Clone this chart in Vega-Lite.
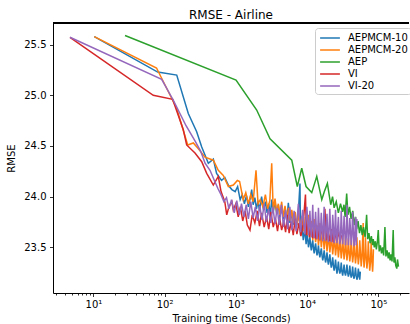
{
  "$schema": "https://vega.github.io/schema/vega-lite/v6.json",
  "width": 356,
  "height": 270,
  "autosize": {"type": "none"},
  "padding": {"left": 53, "top": 23, "right": 1, "bottom": 31},
  "config": {
    "font": "DejaVu Sans",
    "view": {"stroke": null},
    "axis": {
      "domainColor": "black",
      "domainWidth": 1,
      "tickColor": "black",
      "tickWidth": 0.8,
      "labelColor": "black",
      "labelFontSize": 10,
      "titleColor": "black",
      "titleFontSize": 10,
      "titleFontWeight": "normal",
      "grid": false
    }
  },
  "title": {
    "text": "RMSE - Airline",
    "fontSize": 12,
    "fontWeight": "normal",
    "color": "black",
    "anchor": "middle",
    "frame": "group",
    "baseline": "bottom",
    "offset": 3,
    "dy": 14
  },
  "data": {
    "values": [
      {"m": "AEPMCM-10", "t": 10.3, "r": 25.58},
      {"m": "AEPMCM-10", "t": 80, "r": 25.23},
      {"m": "AEPMCM-10", "t": 148, "r": 25.2},
      {"m": "AEPMCM-10", "t": 215, "r": 24.82},
      {"m": "AEPMCM-10", "t": 282, "r": 24.64},
      {"m": "AEPMCM-10", "t": 332, "r": 24.49},
      {"m": "AEPMCM-10", "t": 411, "r": 24.33},
      {"m": "AEPMCM-10", "t": 483, "r": 24.37},
      {"m": "AEPMCM-10", "t": 537, "r": 24.23},
      {"m": "AEPMCM-10", "t": 630, "r": 24.16},
      {"m": "AEPMCM-10", "t": 700, "r": 24.19},
      {"m": "AEPMCM-10", "t": 790, "r": 24.11},
      {"m": "AEPMCM-10", "t": 880, "r": 24.07},
      {"m": "AEPMCM-10", "t": 980, "r": 24.05},
      {"m": "AEPMCM-10", "t": 1060, "r": 24.1},
      {"m": "AEPMCM-10", "t": 1150, "r": 23.97},
      {"m": "AEPMCM-10", "t": 1230, "r": 24.02},
      {"m": "AEPMCM-10", "t": 1320, "r": 23.93},
      {"m": "AEPMCM-10", "t": 1410, "r": 24.01},
      {"m": "AEPMCM-10", "t": 1500, "r": 23.9},
      {"m": "AEPMCM-10", "t": 1600, "r": 23.99},
      {"m": "AEPMCM-10", "t": 1670, "r": 24.07},
      {"m": "AEPMCM-10", "t": 1750, "r": 23.92},
      {"m": "AEPMCM-10", "t": 1850, "r": 23.99},
      {"m": "AEPMCM-10", "t": 1950, "r": 23.88},
      {"m": "AEPMCM-10", "t": 2050, "r": 23.96},
      {"m": "AEPMCM-10", "t": 2150, "r": 23.86},
      {"m": "AEPMCM-10", "t": 2300, "r": 24.0},
      {"m": "AEPMCM-10", "t": 2450, "r": 23.87},
      {"m": "AEPMCM-10", "t": 2600, "r": 23.95},
      {"m": "AEPMCM-10", "t": 2750, "r": 23.84},
      {"m": "AEPMCM-10", "t": 2900, "r": 23.93},
      {"m": "AEPMCM-10", "t": 3050, "r": 23.82},
      {"m": "AEPMCM-10", "t": 3190, "r": 23.97},
      {"m": "AEPMCM-10", "t": 3350, "r": 23.85},
      {"m": "AEPMCM-10", "t": 3550, "r": 23.95},
      {"m": "AEPMCM-10", "t": 3750, "r": 23.83},
      {"m": "AEPMCM-10", "t": 3950, "r": 23.92},
      {"m": "AEPMCM-10", "t": 4150, "r": 23.8},
      {"m": "AEPMCM-10", "t": 4400, "r": 23.9},
      {"m": "AEPMCM-10", "t": 4650, "r": 23.78},
      {"m": "AEPMCM-10", "t": 4900, "r": 23.88},
      {"m": "AEPMCM-10", "t": 5200, "r": 23.76},
      {"m": "AEPMCM-10", "t": 5460, "r": 23.94},
      {"m": "AEPMCM-10", "t": 5750, "r": 23.74},
      {"m": "AEPMCM-10", "t": 6050, "r": 23.86},
      {"m": "AEPMCM-10", "t": 6350, "r": 23.72},
      {"m": "AEPMCM-10", "t": 6700, "r": 23.84},
      {"m": "AEPMCM-10", "t": 7050, "r": 23.7},
      {"m": "AEPMCM-10", "t": 7500, "r": 23.8},
      {"m": "AEPMCM-10", "t": 7950, "r": 24.13},
      {"m": "AEPMCM-10", "t": 8100, "r": 23.62},
      {"m": "AEPMCM-10", "t": 8500, "r": 23.72},
      {"m": "AEPMCM-10", "t": 8850, "r": 23.57},
      {"m": "AEPMCM-10", "t": 9300, "r": 23.68},
      {"m": "AEPMCM-10", "t": 9700, "r": 23.53},
      {"m": "AEPMCM-10", "t": 10000, "r": 23.64},
      {"m": "AEPMCM-10", "t": 10230, "r": 23.58},
      {"m": "AEPMCM-10", "t": 10470, "r": 23.5},
      {"m": "AEPMCM-10", "t": 10710, "r": 23.55},
      {"m": "AEPMCM-10", "t": 10960, "r": 23.6},
      {"m": "AEPMCM-10", "t": 11220, "r": 23.52},
      {"m": "AEPMCM-10", "t": 11480, "r": 23.47},
      {"m": "AEPMCM-10", "t": 11750, "r": 23.53},
      {"m": "AEPMCM-10", "t": 12020, "r": 23.57},
      {"m": "AEPMCM-10", "t": 12300, "r": 23.49},
      {"m": "AEPMCM-10", "t": 12590, "r": 23.44},
      {"m": "AEPMCM-10", "t": 12880, "r": 23.5},
      {"m": "AEPMCM-10", "t": 13180, "r": 23.54},
      {"m": "AEPMCM-10", "t": 13490, "r": 23.47},
      {"m": "AEPMCM-10", "t": 13800, "r": 23.42},
      {"m": "AEPMCM-10", "t": 14120, "r": 23.46},
      {"m": "AEPMCM-10", "t": 14450, "r": 23.52},
      {"m": "AEPMCM-10", "t": 14790, "r": 23.44},
      {"m": "AEPMCM-10", "t": 15140, "r": 23.4},
      {"m": "AEPMCM-10", "t": 15490, "r": 23.45},
      {"m": "AEPMCM-10", "t": 15850, "r": 23.49},
      {"m": "AEPMCM-10", "t": 16220, "r": 23.42},
      {"m": "AEPMCM-10", "t": 16600, "r": 23.37},
      {"m": "AEPMCM-10", "t": 16980, "r": 23.41},
      {"m": "AEPMCM-10", "t": 17380, "r": 23.47},
      {"m": "AEPMCM-10", "t": 17780, "r": 23.4},
      {"m": "AEPMCM-10", "t": 18200, "r": 23.35},
      {"m": "AEPMCM-10", "t": 18620, "r": 23.39},
      {"m": "AEPMCM-10", "t": 19050, "r": 23.45},
      {"m": "AEPMCM-10", "t": 19500, "r": 23.37},
      {"m": "AEPMCM-10", "t": 19950, "r": 23.33},
      {"m": "AEPMCM-10", "t": 20420, "r": 23.38},
      {"m": "AEPMCM-10", "t": 20890, "r": 23.43},
      {"m": "AEPMCM-10", "t": 21380, "r": 23.35},
      {"m": "AEPMCM-10", "t": 21880, "r": 23.3},
      {"m": "AEPMCM-10", "t": 22390, "r": 23.34},
      {"m": "AEPMCM-10", "t": 22910, "r": 23.4},
      {"m": "AEPMCM-10", "t": 23440, "r": 23.32},
      {"m": "AEPMCM-10", "t": 23990, "r": 23.27},
      {"m": "AEPMCM-10", "t": 24550, "r": 23.31},
      {"m": "AEPMCM-10", "t": 25120, "r": 23.38},
      {"m": "AEPMCM-10", "t": 25700, "r": 23.3},
      {"m": "AEPMCM-10", "t": 26300, "r": 23.24},
      {"m": "AEPMCM-10", "t": 26910, "r": 23.29},
      {"m": "AEPMCM-10", "t": 27540, "r": 23.36},
      {"m": "AEPMCM-10", "t": 28180, "r": 23.28},
      {"m": "AEPMCM-10", "t": 28840, "r": 23.24},
      {"m": "AEPMCM-10", "t": 29510, "r": 23.27},
      {"m": "AEPMCM-10", "t": 30200, "r": 23.35},
      {"m": "AEPMCM-10", "t": 30900, "r": 23.26},
      {"m": "AEPMCM-10", "t": 31620, "r": 23.22},
      {"m": "AEPMCM-10", "t": 32360, "r": 23.27},
      {"m": "AEPMCM-10", "t": 33110, "r": 23.33},
      {"m": "AEPMCM-10", "t": 33880, "r": 23.25},
      {"m": "AEPMCM-10", "t": 34670, "r": 23.22},
      {"m": "AEPMCM-10", "t": 35480, "r": 23.26},
      {"m": "AEPMCM-10", "t": 36310, "r": 23.33},
      {"m": "AEPMCM-10", "t": 37150, "r": 23.25},
      {"m": "AEPMCM-10", "t": 38020, "r": 23.21},
      {"m": "AEPMCM-10", "t": 38900, "r": 23.24},
      {"m": "AEPMCM-10", "t": 39810, "r": 23.32},
      {"m": "AEPMCM-10", "t": 40740, "r": 23.24},
      {"m": "AEPMCM-10", "t": 41690, "r": 23.2},
      {"m": "AEPMCM-10", "t": 42660, "r": 23.23},
      {"m": "AEPMCM-10", "t": 43650, "r": 23.31},
      {"m": "AEPMCM-10", "t": 44670, "r": 23.22},
      {"m": "AEPMCM-10", "t": 45710, "r": 23.19},
      {"m": "AEPMCM-10", "t": 46770, "r": 23.23},
      {"m": "AEPMCM-10", "t": 47860, "r": 23.3},
      {"m": "AEPMCM-10", "t": 48980, "r": 23.22},
      {"m": "AEPMCM-10", "t": 50120, "r": 23.18},
      {"m": "AEPMCM-10", "t": 51290, "r": 23.21},
      {"m": "AEPMCM-10", "t": 52480, "r": 23.29},
      {"m": "AEPMCM-10", "t": 53710, "r": 23.22},
      {"m": "AEPMCM-10", "t": 54950, "r": 23.18},
      {"m": "AEPMCM-10", "t": 56000, "r": 23.26},

      {"m": "AEPMCM-20", "t": 10.3, "r": 25.58},
      {"m": "AEPMCM-20", "t": 77, "r": 25.27},
      {"m": "AEPMCM-20", "t": 148, "r": 24.87},
      {"m": "AEPMCM-20", "t": 211, "r": 24.51},
      {"m": "AEPMCM-20", "t": 253, "r": 24.53},
      {"m": "AEPMCM-20", "t": 300, "r": 24.47},
      {"m": "AEPMCM-20", "t": 369, "r": 24.39},
      {"m": "AEPMCM-20", "t": 483, "r": 24.36},
      {"m": "AEPMCM-20", "t": 567, "r": 24.26},
      {"m": "AEPMCM-20", "t": 667, "r": 24.21},
      {"m": "AEPMCM-20", "t": 785, "r": 24.1},
      {"m": "AEPMCM-20", "t": 923, "r": 24.115},
      {"m": "AEPMCM-20", "t": 1050, "r": 24.16},
      {"m": "AEPMCM-20", "t": 1130, "r": 24.15},
      {"m": "AEPMCM-20", "t": 1270, "r": 23.97},
      {"m": "AEPMCM-20", "t": 1380, "r": 24.04},
      {"m": "AEPMCM-20", "t": 1500, "r": 23.93},
      {"m": "AEPMCM-20", "t": 1620, "r": 24.02},
      {"m": "AEPMCM-20", "t": 1750, "r": 23.95},
      {"m": "AEPMCM-20", "t": 1920, "r": 24.26},
      {"m": "AEPMCM-20", "t": 2050, "r": 23.93},
      {"m": "AEPMCM-20", "t": 2200, "r": 23.97},
      {"m": "AEPMCM-20", "t": 2400, "r": 23.9},
      {"m": "AEPMCM-20", "t": 2600, "r": 24.02},
      {"m": "AEPMCM-20", "t": 2800, "r": 23.88},
      {"m": "AEPMCM-20", "t": 3000, "r": 23.96},
      {"m": "AEPMCM-20", "t": 3190, "r": 24.33},
      {"m": "AEPMCM-20", "t": 3350, "r": 23.86},
      {"m": "AEPMCM-20", "t": 3550, "r": 23.98},
      {"m": "AEPMCM-20", "t": 3750, "r": 23.84},
      {"m": "AEPMCM-20", "t": 3950, "r": 23.93},
      {"m": "AEPMCM-20", "t": 4150, "r": 23.82},
      {"m": "AEPMCM-20", "t": 4400, "r": 23.95},
      {"m": "AEPMCM-20", "t": 4650, "r": 23.8},
      {"m": "AEPMCM-20", "t": 4900, "r": 23.91},
      {"m": "AEPMCM-20", "t": 5200, "r": 23.78},
      {"m": "AEPMCM-20", "t": 5500, "r": 23.89},
      {"m": "AEPMCM-20", "t": 5800, "r": 23.76},
      {"m": "AEPMCM-20", "t": 6100, "r": 23.87},
      {"m": "AEPMCM-20", "t": 6400, "r": 23.74},
      {"m": "AEPMCM-20", "t": 6800, "r": 23.85},
      {"m": "AEPMCM-20", "t": 7200, "r": 23.72},
      {"m": "AEPMCM-20", "t": 7600, "r": 23.83},
      {"m": "AEPMCM-20", "t": 8000, "r": 23.7},
      {"m": "AEPMCM-20", "t": 8500, "r": 23.81},
      {"m": "AEPMCM-20", "t": 9000, "r": 23.66},
      {"m": "AEPMCM-20", "t": 9500, "r": 23.8},
      {"m": "AEPMCM-20", "t": 10000, "r": 23.62},
      {"m": "AEPMCM-20", "t": 10230, "r": 23.7},
      {"m": "AEPMCM-20", "t": 10470, "r": 23.82},
      {"m": "AEPMCM-20", "t": 10710, "r": 23.68},
      {"m": "AEPMCM-20", "t": 10960, "r": 23.6},
      {"m": "AEPMCM-20", "t": 11220, "r": 23.66},
      {"m": "AEPMCM-20", "t": 11480, "r": 23.76},
      {"m": "AEPMCM-20", "t": 11750, "r": 23.67},
      {"m": "AEPMCM-20", "t": 12020, "r": 23.57},
      {"m": "AEPMCM-20", "t": 12300, "r": 23.64},
      {"m": "AEPMCM-20", "t": 12590, "r": 23.78},
      {"m": "AEPMCM-20", "t": 12880, "r": 23.63},
      {"m": "AEPMCM-20", "t": 13180, "r": 23.55},
      {"m": "AEPMCM-20", "t": 13490, "r": 23.6},
      {"m": "AEPMCM-20", "t": 13800, "r": 23.72},
      {"m": "AEPMCM-20", "t": 14120, "r": 23.62},
      {"m": "AEPMCM-20", "t": 14450, "r": 23.52},
      {"m": "AEPMCM-20", "t": 14790, "r": 23.58},
      {"m": "AEPMCM-20", "t": 15140, "r": 23.74},
      {"m": "AEPMCM-20", "t": 15490, "r": 23.6},
      {"m": "AEPMCM-20", "t": 15850, "r": 23.5},
      {"m": "AEPMCM-20", "t": 16220, "r": 23.57},
      {"m": "AEPMCM-20", "t": 16600, "r": 23.7},
      {"m": "AEPMCM-20", "t": 16980, "r": 23.58},
      {"m": "AEPMCM-20", "t": 17380, "r": 23.48},
      {"m": "AEPMCM-20", "t": 17780, "r": 23.55},
      {"m": "AEPMCM-20", "t": 18200, "r": 23.69},
      {"m": "AEPMCM-20", "t": 18620, "r": 23.56},
      {"m": "AEPMCM-20", "t": 19050, "r": 23.46},
      {"m": "AEPMCM-20", "t": 19500, "r": 23.53},
      {"m": "AEPMCM-20", "t": 19950, "r": 23.66},
      {"m": "AEPMCM-20", "t": 20420, "r": 23.55},
      {"m": "AEPMCM-20", "t": 20890, "r": 23.45},
      {"m": "AEPMCM-20", "t": 21380, "r": 23.52},
      {"m": "AEPMCM-20", "t": 21880, "r": 23.68},
      {"m": "AEPMCM-20", "t": 22390, "r": 23.53},
      {"m": "AEPMCM-20", "t": 22910, "r": 23.43},
      {"m": "AEPMCM-20", "t": 23440, "r": 23.5},
      {"m": "AEPMCM-20", "t": 23990, "r": 23.63},
      {"m": "AEPMCM-20", "t": 24550, "r": 23.52},
      {"m": "AEPMCM-20", "t": 25120, "r": 23.42},
      {"m": "AEPMCM-20", "t": 25700, "r": 23.49},
      {"m": "AEPMCM-20", "t": 26300, "r": 23.65},
      {"m": "AEPMCM-20", "t": 26910, "r": 23.5},
      {"m": "AEPMCM-20", "t": 27540, "r": 23.4},
      {"m": "AEPMCM-20", "t": 28180, "r": 23.48},
      {"m": "AEPMCM-20", "t": 28840, "r": 23.62},
      {"m": "AEPMCM-20", "t": 29510, "r": 23.49},
      {"m": "AEPMCM-20", "t": 30200, "r": 23.39},
      {"m": "AEPMCM-20", "t": 30900, "r": 23.46},
      {"m": "AEPMCM-20", "t": 31620, "r": 23.6},
      {"m": "AEPMCM-20", "t": 32360, "r": 23.48},
      {"m": "AEPMCM-20", "t": 33110, "r": 23.38},
      {"m": "AEPMCM-20", "t": 33880, "r": 23.45},
      {"m": "AEPMCM-20", "t": 34670, "r": 23.62},
      {"m": "AEPMCM-20", "t": 35480, "r": 23.47},
      {"m": "AEPMCM-20", "t": 36310, "r": 23.37},
      {"m": "AEPMCM-20", "t": 37150, "r": 23.44},
      {"m": "AEPMCM-20", "t": 38020, "r": 23.59},
      {"m": "AEPMCM-20", "t": 38900, "r": 23.46},
      {"m": "AEPMCM-20", "t": 39810, "r": 23.36},
      {"m": "AEPMCM-20", "t": 40740, "r": 23.43},
      {"m": "AEPMCM-20", "t": 41690, "r": 23.6},
      {"m": "AEPMCM-20", "t": 42660, "r": 23.45},
      {"m": "AEPMCM-20", "t": 43650, "r": 23.35},
      {"m": "AEPMCM-20", "t": 44670, "r": 23.42},
      {"m": "AEPMCM-20", "t": 45710, "r": 23.58},
      {"m": "AEPMCM-20", "t": 46770, "r": 23.44},
      {"m": "AEPMCM-20", "t": 47860, "r": 23.34},
      {"m": "AEPMCM-20", "t": 48980, "r": 23.41},
      {"m": "AEPMCM-20", "t": 50120, "r": 23.6},
      {"m": "AEPMCM-20", "t": 51290, "r": 23.43},
      {"m": "AEPMCM-20", "t": 52480, "r": 23.33},
      {"m": "AEPMCM-20", "t": 53710, "r": 23.4},
      {"m": "AEPMCM-20", "t": 54950, "r": 23.57},
      {"m": "AEPMCM-20", "t": 56230, "r": 23.44},
      {"m": "AEPMCM-20", "t": 57540, "r": 23.31},
      {"m": "AEPMCM-20", "t": 58880, "r": 23.39},
      {"m": "AEPMCM-20", "t": 60260, "r": 23.58},
      {"m": "AEPMCM-20", "t": 61400, "r": 23.74},
      {"m": "AEPMCM-20", "t": 61700, "r": 23.45},
      {"m": "AEPMCM-20", "t": 63100, "r": 23.3},
      {"m": "AEPMCM-20", "t": 64570, "r": 23.38},
      {"m": "AEPMCM-20", "t": 66070, "r": 23.6},
      {"m": "AEPMCM-20", "t": 67600, "r": 23.42},
      {"m": "AEPMCM-20", "t": 69180, "r": 23.29},
      {"m": "AEPMCM-20", "t": 70790, "r": 23.36},
      {"m": "AEPMCM-20", "t": 72440, "r": 23.56},
      {"m": "AEPMCM-20", "t": 74130, "r": 23.4},
      {"m": "AEPMCM-20", "t": 75860, "r": 23.27},
      {"m": "AEPMCM-20", "t": 77620, "r": 23.35},
      {"m": "AEPMCM-20", "t": 79430, "r": 23.55},
      {"m": "AEPMCM-20", "t": 81280, "r": 23.38},
      {"m": "AEPMCM-20", "t": 83180, "r": 23.26},
      {"m": "AEPMCM-20", "t": 84300, "r": 23.33},
      {"m": "AEPMCM-20", "t": 85500, "r": 23.48},

      {"m": "AEP", "t": 27.8, "r": 25.59},
      {"m": "AEP", "t": 1007, "r": 25.15},
      {"m": "AEP", "t": 1963, "r": 24.855},
      {"m": "AEP", "t": 3020, "r": 24.57},
      {"m": "AEP", "t": 6100, "r": 24.36},
      {"m": "AEP", "t": 7300, "r": 24.1},
      {"m": "AEP", "t": 8420, "r": 24.28},
      {"m": "AEP", "t": 9680, "r": 24.1},
      {"m": "AEP", "t": 11640, "r": 24.04},
      {"m": "AEP", "t": 13680, "r": 24.2},
      {"m": "AEP", "t": 16100, "r": 23.97},
      {"m": "AEP", "t": 17500, "r": 24.05},
      {"m": "AEP", "t": 19300, "r": 24.13},
      {"m": "AEP", "t": 21500, "r": 23.92},
      {"m": "AEP", "t": 22800, "r": 24.0},
      {"m": "AEP", "t": 24000, "r": 23.89},
      {"m": "AEP", "t": 25700, "r": 23.95},
      {"m": "AEP", "t": 27500, "r": 23.84},
      {"m": "AEP", "t": 29500, "r": 23.93},
      {"m": "AEP", "t": 31500, "r": 23.85},
      {"m": "AEP", "t": 33000, "r": 23.92},
      {"m": "AEP", "t": 34200, "r": 23.8},
      {"m": "AEP", "t": 36000, "r": 24.03},
      {"m": "AEP", "t": 37500, "r": 23.82},
      {"m": "AEP", "t": 39500, "r": 23.9},
      {"m": "AEP", "t": 41500, "r": 23.78},
      {"m": "AEP", "t": 43800, "r": 23.86},
      {"m": "AEP", "t": 46000, "r": 23.72},
      {"m": "AEP", "t": 48000, "r": 23.8},
      {"m": "AEP", "t": 49700, "r": 23.68},
      {"m": "AEP", "t": 52000, "r": 23.76},
      {"m": "AEP", "t": 54500, "r": 23.64},
      {"m": "AEP", "t": 57000, "r": 23.72},
      {"m": "AEP", "t": 59500, "r": 23.62},
      {"m": "AEP", "t": 62000, "r": 23.7},
      {"m": "AEP", "t": 65300, "r": 23.6},
      {"m": "AEP", "t": 68600, "r": 23.82},
      {"m": "AEP", "t": 71000, "r": 23.58},
      {"m": "AEP", "t": 74000, "r": 23.64},
      {"m": "AEP", "t": 76800, "r": 23.54},
      {"m": "AEP", "t": 80000, "r": 23.61},
      {"m": "AEP", "t": 83000, "r": 23.52},
      {"m": "AEP", "t": 85000, "r": 23.58},
      {"m": "AEP", "t": 88000, "r": 23.5},
      {"m": "AEP", "t": 91000, "r": 23.56},
      {"m": "AEP", "t": 94000, "r": 23.48},
      {"m": "AEP", "t": 97000, "r": 23.55},
      {"m": "AEP", "t": 100000, "r": 23.67},
      {"m": "AEP", "t": 103000, "r": 23.46},
      {"m": "AEP", "t": 107000, "r": 23.52},
      {"m": "AEP", "t": 111000, "r": 23.44},
      {"m": "AEP", "t": 115000, "r": 23.5},
      {"m": "AEP", "t": 119000, "r": 23.42},
      {"m": "AEP", "t": 124000, "r": 23.7},
      {"m": "AEP", "t": 128000, "r": 23.41},
      {"m": "AEP", "t": 133000, "r": 23.47},
      {"m": "AEP", "t": 138000, "r": 23.39},
      {"m": "AEP", "t": 142000, "r": 23.45},
      {"m": "AEP", "t": 146600, "r": 23.37},
      {"m": "AEP", "t": 151000, "r": 23.43},
      {"m": "AEP", "t": 156000, "r": 23.36},
      {"m": "AEP", "t": 162000, "r": 23.67},
      {"m": "AEP", "t": 166000, "r": 23.35},
      {"m": "AEP", "t": 171000, "r": 23.4},
      {"m": "AEP", "t": 176000, "r": 23.32},
      {"m": "AEP", "t": 182000, "r": 23.29},
      {"m": "AEP", "t": 186000, "r": 23.38},
      {"m": "AEP", "t": 192000, "r": 23.31},

      {"m": "VI", "t": 4.69, "r": 25.573},
      {"m": "VI", "t": 69.3, "r": 25.0},
      {"m": "VI", "t": 130, "r": 24.96},
      {"m": "VI", "t": 183, "r": 24.66},
      {"m": "VI", "t": 204, "r": 24.51},
      {"m": "VI", "t": 267, "r": 24.43},
      {"m": "VI", "t": 332, "r": 24.345},
      {"m": "VI", "t": 390, "r": 24.23},
      {"m": "VI", "t": 483, "r": 24.115},
      {"m": "VI", "t": 567, "r": 24.2},
      {"m": "VI", "t": 620, "r": 24.05},
      {"m": "VI", "t": 700, "r": 23.95},
      {"m": "VI", "t": 745, "r": 23.82},
      {"m": "VI", "t": 800, "r": 23.9},
      {"m": "VI", "t": 880, "r": 23.95},
      {"m": "VI", "t": 920, "r": 23.87},
      {"m": "VI", "t": 1000, "r": 23.93},
      {"m": "VI", "t": 1080, "r": 23.8},
      {"m": "VI", "t": 1160, "r": 23.9},
      {"m": "VI", "t": 1250, "r": 23.76},
      {"m": "VI", "t": 1350, "r": 23.86},
      {"m": "VI", "t": 1450, "r": 23.72},
      {"m": "VI", "t": 1580, "r": 23.67},
      {"m": "VI", "t": 1700, "r": 23.82},
      {"m": "VI", "t": 1850, "r": 23.74},
      {"m": "VI", "t": 2000, "r": 23.86},
      {"m": "VI", "t": 2150, "r": 23.71},
      {"m": "VI", "t": 2300, "r": 23.84},
      {"m": "VI", "t": 2500, "r": 23.7},
      {"m": "VI", "t": 2700, "r": 23.8},
      {"m": "VI", "t": 2900, "r": 23.68},
      {"m": "VI", "t": 3100, "r": 23.85},
      {"m": "VI", "t": 3350, "r": 23.7},
      {"m": "VI", "t": 3600, "r": 23.78},
      {"m": "VI", "t": 3850, "r": 23.66},
      {"m": "VI", "t": 4100, "r": 23.8},
      {"m": "VI", "t": 4400, "r": 23.67},
      {"m": "VI", "t": 4700, "r": 23.76},
      {"m": "VI", "t": 5000, "r": 23.65},
      {"m": "VI", "t": 5300, "r": 23.82},
      {"m": "VI", "t": 5600, "r": 23.64},
      {"m": "VI", "t": 6000, "r": 23.75},
      {"m": "VI", "t": 6400, "r": 23.62},
      {"m": "VI", "t": 6800, "r": 23.78},
      {"m": "VI", "t": 7200, "r": 23.63},
      {"m": "VI", "t": 7700, "r": 23.74},
      {"m": "VI", "t": 8200, "r": 23.61},
      {"m": "VI", "t": 8800, "r": 23.72},
      {"m": "VI", "t": 9500, "r": 24.02},
      {"m": "VI", "t": 9800, "r": 23.62},
      {"m": "VI", "t": 10300, "r": 23.73},
      {"m": "VI", "t": 10800, "r": 23.6},
      {"m": "VI", "t": 11400, "r": 23.7},
      {"m": "VI", "t": 12000, "r": 23.59},
      {"m": "VI", "t": 12700, "r": 23.72},
      {"m": "VI", "t": 13400, "r": 23.58},
      {"m": "VI", "t": 14200, "r": 23.68},
      {"m": "VI", "t": 15000, "r": 23.57},
      {"m": "VI", "t": 15900, "r": 23.7},
      {"m": "VI", "t": 16800, "r": 23.58},
      {"m": "VI", "t": 17800, "r": 23.88},
      {"m": "VI", "t": 18700, "r": 23.57},
      {"m": "VI", "t": 19700, "r": 23.66},
      {"m": "VI", "t": 20800, "r": 23.56},
      {"m": "VI", "t": 22000, "r": 23.68},
      {"m": "VI", "t": 23300, "r": 23.55},
      {"m": "VI", "t": 24600, "r": 23.65},
      {"m": "VI", "t": 26000, "r": 23.56},
      {"m": "VI", "t": 27500, "r": 23.66},
      {"m": "VI", "t": 29000, "r": 23.55},
      {"m": "VI", "t": 30500, "r": 23.62},

      {"m": "VI-20", "t": 4.69, "r": 25.573},
      {"m": "VI-20", "t": 91, "r": 25.158},
      {"m": "VI-20", "t": 132, "r": 24.954},
      {"m": "VI-20", "t": 200, "r": 24.7},
      {"m": "VI-20", "t": 267, "r": 24.55},
      {"m": "VI-20", "t": 320, "r": 24.45},
      {"m": "VI-20", "t": 370, "r": 24.33},
      {"m": "VI-20", "t": 434, "r": 24.26},
      {"m": "VI-20", "t": 500, "r": 24.16},
      {"m": "VI-20", "t": 560, "r": 24.08},
      {"m": "VI-20", "t": 620, "r": 24.02},
      {"m": "VI-20", "t": 680, "r": 23.95},
      {"m": "VI-20", "t": 740, "r": 23.99},
      {"m": "VI-20", "t": 800, "r": 23.88},
      {"m": "VI-20", "t": 870, "r": 23.97},
      {"m": "VI-20", "t": 950, "r": 23.84},
      {"m": "VI-20", "t": 1030, "r": 23.96},
      {"m": "VI-20", "t": 1120, "r": 23.82},
      {"m": "VI-20", "t": 1200, "r": 23.93},
      {"m": "VI-20", "t": 1300, "r": 23.8},
      {"m": "VI-20", "t": 1400, "r": 23.92},
      {"m": "VI-20", "t": 1500, "r": 23.78},
      {"m": "VI-20", "t": 1620, "r": 23.95},
      {"m": "VI-20", "t": 1750, "r": 23.79},
      {"m": "VI-20", "t": 1880, "r": 23.9},
      {"m": "VI-20", "t": 2020, "r": 23.76},
      {"m": "VI-20", "t": 2170, "r": 23.91},
      {"m": "VI-20", "t": 2330, "r": 23.77},
      {"m": "VI-20", "t": 2500, "r": 23.93},
      {"m": "VI-20", "t": 2680, "r": 23.75},
      {"m": "VI-20", "t": 2880, "r": 23.88},
      {"m": "VI-20", "t": 3090, "r": 23.74},
      {"m": "VI-20", "t": 3310, "r": 23.9},
      {"m": "VI-20", "t": 3550, "r": 23.73},
      {"m": "VI-20", "t": 3800, "r": 23.89},
      {"m": "VI-20", "t": 4070, "r": 23.72},
      {"m": "VI-20", "t": 4360, "r": 23.92},
      {"m": "VI-20", "t": 4670, "r": 23.7},
      {"m": "VI-20", "t": 5000, "r": 23.87},
      {"m": "VI-20", "t": 5350, "r": 23.68},
      {"m": "VI-20", "t": 5730, "r": 23.9},
      {"m": "VI-20", "t": 6140, "r": 23.67},
      {"m": "VI-20", "t": 6580, "r": 23.86},
      {"m": "VI-20", "t": 7050, "r": 23.66},
      {"m": "VI-20", "t": 7550, "r": 23.93},
      {"m": "VI-20", "t": 8090, "r": 23.65},
      {"m": "VI-20", "t": 8670, "r": 23.87},
      {"m": "VI-20", "t": 9290, "r": 23.63},
      {"m": "VI-20", "t": 9950, "r": 23.9},
      {"m": "VI-20", "t": 10230, "r": 23.75},
      {"m": "VI-20", "t": 10470, "r": 23.62},
      {"m": "VI-20", "t": 10710, "r": 23.72},
      {"m": "VI-20", "t": 10960, "r": 23.86},
      {"m": "VI-20", "t": 11220, "r": 23.7},
      {"m": "VI-20", "t": 11480, "r": 23.6},
      {"m": "VI-20", "t": 11750, "r": 23.74},
      {"m": "VI-20", "t": 12020, "r": 23.92},
      {"m": "VI-20", "t": 12300, "r": 23.68},
      {"m": "VI-20", "t": 12590, "r": 23.59},
      {"m": "VI-20", "t": 12880, "r": 23.72},
      {"m": "VI-20", "t": 13180, "r": 23.85},
      {"m": "VI-20", "t": 13490, "r": 23.7},
      {"m": "VI-20", "t": 13800, "r": 23.58},
      {"m": "VI-20", "t": 14120, "r": 23.66},
      {"m": "VI-20", "t": 14450, "r": 23.89},
      {"m": "VI-20", "t": 14790, "r": 23.72},
      {"m": "VI-20", "t": 15140, "r": 23.57},
      {"m": "VI-20", "t": 15490, "r": 23.68},
      {"m": "VI-20", "t": 15850, "r": 23.84},
      {"m": "VI-20", "t": 16220, "r": 23.66},
      {"m": "VI-20", "t": 16600, "r": 23.56},
      {"m": "VI-20", "t": 16980, "r": 23.73},
      {"m": "VI-20", "t": 17380, "r": 23.9},
      {"m": "VI-20", "t": 17780, "r": 23.65},
      {"m": "VI-20", "t": 18200, "r": 23.56},
      {"m": "VI-20", "t": 18620, "r": 23.7},
      {"m": "VI-20", "t": 19050, "r": 23.83},
      {"m": "VI-20", "t": 19500, "r": 23.64},
      {"m": "VI-20", "t": 19950, "r": 23.55},
      {"m": "VI-20", "t": 20420, "r": 23.71},
      {"m": "VI-20", "t": 20890, "r": 23.88},
      {"m": "VI-20", "t": 21380, "r": 23.66},
      {"m": "VI-20", "t": 21880, "r": 23.55},
      {"m": "VI-20", "t": 22390, "r": 23.63},
      {"m": "VI-20", "t": 22910, "r": 23.82},
      {"m": "VI-20", "t": 23440, "r": 23.7},
      {"m": "VI-20", "t": 23990, "r": 23.54},
      {"m": "VI-20", "t": 24550, "r": 23.65},
      {"m": "VI-20", "t": 25120, "r": 23.87},
      {"m": "VI-20", "t": 25700, "r": 23.62},
      {"m": "VI-20", "t": 26300, "r": 23.54},
      {"m": "VI-20", "t": 26910, "r": 23.69},
      {"m": "VI-20", "t": 27540, "r": 23.8},
      {"m": "VI-20", "t": 28180, "r": 23.64},
      {"m": "VI-20", "t": 28840, "r": 23.53},
      {"m": "VI-20", "t": 29510, "r": 23.61},
      {"m": "VI-20", "t": 30200, "r": 23.86},
      {"m": "VI-20", "t": 30900, "r": 23.68},
      {"m": "VI-20", "t": 31620, "r": 23.53},
      {"m": "VI-20", "t": 32360, "r": 23.63},
      {"m": "VI-20", "t": 33110, "r": 23.81},
      {"m": "VI-20", "t": 33880, "r": 23.66},
      {"m": "VI-20", "t": 34670, "r": 23.52},
      {"m": "VI-20", "t": 35480, "r": 23.6},
      {"m": "VI-20", "t": 36310, "r": 23.92},
      {"m": "VI-20", "t": 37150, "r": 23.7},
      {"m": "VI-20", "t": 38020, "r": 23.52},
      {"m": "VI-20", "t": 38900, "r": 23.62},
      {"m": "VI-20", "t": 39810, "r": 23.79},
      {"m": "VI-20", "t": 40740, "r": 23.67},
      {"m": "VI-20", "t": 41690, "r": 23.52},
      {"m": "VI-20", "t": 42660, "r": 23.61},
      {"m": "VI-20", "t": 43650, "r": 23.85},
      {"m": "VI-20", "t": 44670, "r": 23.66},
      {"m": "VI-20", "t": 45710, "r": 23.51},
      {"m": "VI-20", "t": 46770, "r": 23.6},
      {"m": "VI-20", "t": 47860, "r": 23.8},
      {"m": "VI-20", "t": 48500, "r": 23.65},
      {"m": "VI-20", "t": 49000, "r": 23.52},
      {"m": "VI-20", "t": 50120, "r": 23.78}
    ]
  },
  "layer": [
    {
      "mark": {"type": "line", "strokeWidth": 1.5, "clip": true},
      "encoding": {
        "x": {
          "field": "t",
          "type": "quantitative",
          "title": "Training time (Seconds)",
          "scale": {"type": "log", "domain": [2.71, 270000], "nice": false},
          "axis": {
            "values": [3, 4, 5, 6, 7, 8, 9, 10, 20, 30, 40, 50, 60, 70, 80, 90, 100, 200, 300, 400, 500, 600, 700, 800, 900, 1000, 2000, 3000, 4000, 5000, 6000, 7000, 8000, 9000, 10000, 20000, 30000, 40000, 50000, 60000, 70000, 80000, 90000, 100000, 200000],
            "labelExpr": "abs(log(datum.value)/LN10 - round(log(datum.value)/LN10)) < 0.001 ? '10' + substring('⁰¹²³⁴⁵⁶', round(log(datum.value)/LN10), round(log(datum.value)/LN10) + 1) : ''",
            "tickSize": {"condition": {"test": "abs(log(datum.value)/LN10 - round(log(datum.value)/LN10)) < 0.001", "value": 3.5}, "value": 2},
            "labelPadding": 3,
            "labelFlush": false,
            "labelOverlap": false,
            "titlePadding": 4
          }
        },
        "y": {
          "field": "r",
          "type": "quantitative",
          "title": "RMSE",
          "scale": {"domain": [23.049, 25.714], "nice": false, "zero": false},
          "axis": {
            "values": [23.5, 24.0, 24.5, 25.0, 25.5],
            "format": ".1f",
            "tickSize": 3.5,
            "labelPadding": 3.5,
            "titlePadding": 7
          }
        },
        "color": {
          "field": "m",
          "type": "nominal",
          "scale": {
            "domain": ["AEPMCM-10", "AEPMCM-20", "AEP", "VI", "VI-20"],
            "range": ["#1f77b4", "#ff7f0e", "#2ca02c", "#d62728", "#9467bd"]
          },
          "legend": {
            "title": null,
            "orient": "none",
            "legendX": 262,
            "legendY": 5,
            "symbolType": "M-1.65,0H1.65",
            "symbolSize": 144,
            "symbolOffset": 5,
            "symbolStrokeWidth": 1.5,
            "labelFontSize": 10,
            "labelColor": "black",
            "labelOffset": 11,
            "rowPadding": 0,
            "padding": 3,
            "strokeColor": "#cccccc",
            "fillColor": "rgba(255,255,255,0.8)",
            "cornerRadius": 3
          }
        }
      }
    },
    {
      "mark": {"type": "rule", "color": "black", "strokeWidth": 1},
      "encoding": {"y": {"datum": 25.714}}
    }
  ]
}
